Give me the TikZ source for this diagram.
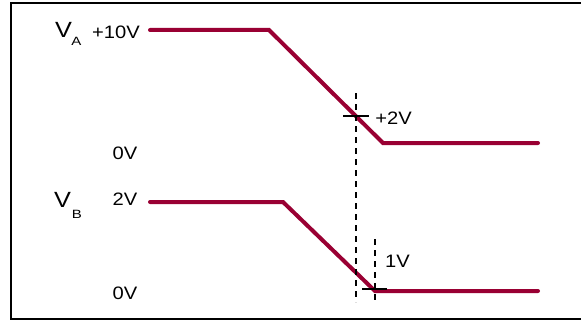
\documentclass[tikz,border=0pt]{standalone}
\usepackage{fontspec}
\setmainfont{Liberation Sans}
\usepackage{tikz}
\definecolor{trace}{RGB}{153,0,51}

\begin{document}
\begin{tikzpicture}[x=1pt,y=1pt,yscale=-1,
  lbl/.style={anchor=base,inner sep=0pt,xscale=1.12,font=\fontsize{18}{20}\selectfont},
  sig/.style={anchor=base,inner sep=0pt,xscale=1.15,font=\fontsize{22}{24}\selectfont},
  sub/.style={anchor=base,inner sep=0pt,xscale=1.25,font=\fontsize{12}{13}\selectfont},
  wave/.style={draw=trace,line width=4pt,line cap=round,line join=miter},
  guide/.style={draw=black,line width=1.2pt,dash pattern=on 6pt off 5pt},
  tick/.style={draw=black,line width=1.3pt}]
\useasboundingbox (0,0) rectangle (581,321);

%Frame
\draw [line width=2pt] (583,3) -- (11,3) -- (11,319) -- (583,319) ;

%Waveform A
\coordinate (a0) at (150,30);
\coordinate (a1) at (269,30);
\coordinate (a2) at (383,143);
\coordinate (a3) at (538,143);
\draw [wave] (a0) -- (a1) -- (a2) -- (a3) ;

%Waveform B
\coordinate (b0) at (150,202);
\coordinate (b1) at (283,202);
\coordinate (b2) at (375,291);
\coordinate (b3) at (538,291);
\draw [wave] (b0) -- (b1) -- (b2) -- (b3) ;

%Dashed guides
\coordinate (g1top) at (356,93);
\coordinate (g1bot) at (356,302);
\coordinate (g2top) at (375,239);
\coordinate (g2bot) at (375,302);
\draw [guide] (g1top) -- (g1bot) ;
\draw [guide] (g2top) -- (g2bot) ;

%Ticks
\coordinate (t1l) at (343,116);
\coordinate (t1r) at (369,116);
\coordinate (t2l) at (362,289);
\coordinate (t2r) at (387,289);
\draw [tick] (t1l) -- (t1r) ;
\draw [tick] (t2l) -- (t2r) ;

% Text Node
\node [sig] (vA) at (63.5,37.3) {V};
\node [sub] (vAsub) at (76.5,46) {A};
\node [lbl] (ten) at (116,39) {+10V};
\node [lbl] (zeroA) at (125,159) {0V};
% Text Node
\node [sig] (vB) at (62.5,207) {V};
\node [sub] (vBsub) at (77,218) {B};
\node [lbl] (two) at (125,205) {2V};
\node [lbl] (zeroB) at (125,299) {0V};
% Text Node
\node [lbl] (plustwo) at (393.5,124) {+2V};
\node [lbl] (one) at (397.5,267) {1V};

\end{tikzpicture}
\end{document}
